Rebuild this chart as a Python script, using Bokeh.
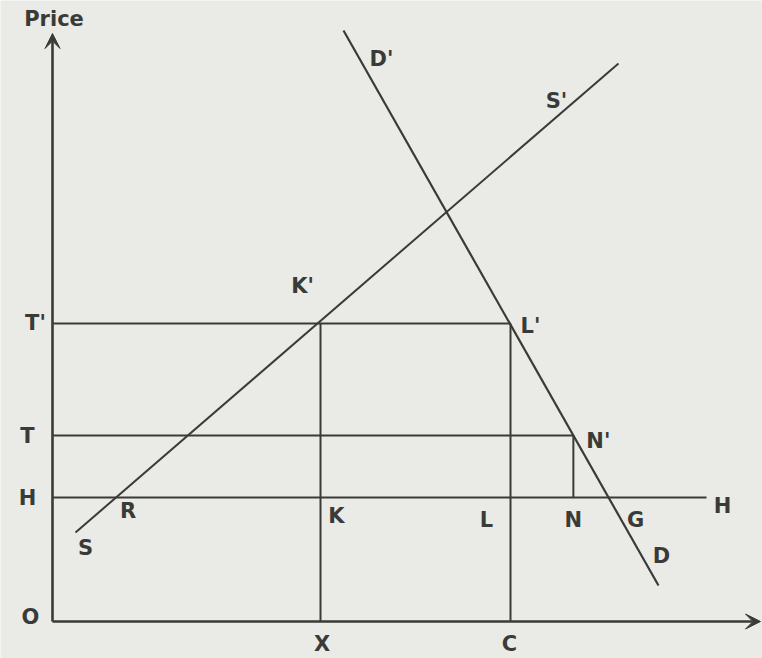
from bokeh.plotting import figure
from bokeh.models import ColumnDataSource, Range1d, Arrow, VeeHead
from bokeh.core.properties import value
from bokeh.embed import file_html
from bokeh.resources import INLINE

# ---------------- data (quantity / price units) ----------------
quantity_marks = ["X", "C"]
quantity_values = [26.8, 45.8]
price_marks = ["H", "T", "T'"]
price_values = [12.4, 18.6, 29.8]

demand_q = [29.1, 60.6]      # D' -> D
demand_p = [59.1, 3.6]
supply_q = [2.3, 56.6]       # S -> S'
supply_p = [8.9, 55.8]

axis_q_max = 70.8
axis_p_max = 58.8
h_line_end = 65.4

# ---------------- styles ----------------
BG = "#eaebe6"
INK = "#3a3b38"
FONT = value("DejaVu Sans")
FS = "21px"
PX = 10.0  # screen pixels per data unit

p = figure(width=762, height=658, output_backend="svg", toolbar_location=None,
           x_range=Range1d(-5.2, 71.0), y_range=Range1d(-3.7, 62.1),
           x_axis_type=None, y_axis_type=None, min_border=0)
p.background_fill_color = BG
p.border_fill_color = BG
p.outline_line_color = None
p.grid.visible = False

qX, qC = quantity_values
pH, pT, pTp = price_values

def on_line(qs, ps, price):
    return qs[0] + (price - ps[0]) * (qs[1] - qs[0]) / (ps[1] - ps[0])

qN = on_line(demand_q, demand_p, pT)   # N' on demand at T
qG = on_line(demand_q, demand_p, pH)   # G on demand at H
qR = on_line(supply_q, supply_p, pH)   # R on supply at H

# demand and supply curves
p.line(demand_q, demand_p, line_color=INK, line_width=2.2)
p.line(supply_q, supply_p, line_color=INK, line_width=2.0)

# construction lines
segs = ColumnDataSource(dict(
    x0=[0, 0, 0, qX, qC, qN],
    y0=[pTp, pT, pH, 0, 0, pH],
    x1=[qC, qN, h_line_end, qX, qC, qN],
    y1=[pTp, pT, pH, pTp, pTp, pT],
))
p.segment(x0="x0", y0="y0", x1="x1", y1="y1", source=segs,
          line_color=INK, line_width=2.0)

# axes with arrow heads
p.add_layout(Arrow(end=VeeHead(size=15, fill_color=INK, line_color=INK),
                   x_start=0, y_start=0, x_end=0, y_end=axis_p_max,
                   line_color=INK, line_width=2.6))
p.add_layout(Arrow(end=VeeHead(size=15, fill_color=INK, line_color=INK),
                   x_start=0, y_start=0, x_end=axis_q_max, y_end=0,
                   line_color=INK, line_width=2.6))

# labels: (text, anchor q, anchor p, dx px, dy px (down))
labels = [
    ("Price", 0, axis_p_max, 1.5, -15),
    ("O", 0, 0, -22, -5),
    (price_marks[0], 0, pH, -25, 0),
    (price_marks[1], 0, pT, -25, 0),
    (price_marks[2], 0, pTp, -17, -1),
    (quantity_marks[0], qX, 0, 1.5, 22),
    (quantity_marks[1], qC, 0, -1, 22),
    ("D'", demand_q[0], demand_p[0], 38, 28),
    ("D", demand_q[1], demand_p[1], 3, -30),
    ("S", supply_q[0], supply_p[0], 10, 15),
    ("S'", supply_q[1], supply_p[1], -62, 37),
    ("K'", qX, pTp, -18, -38),
    ("L'", qC, pTp, 20, 2),
    ("N'", qN, pT, 25, 5),
    ("R", qR, pH, 12, 13),
    ("K", qX, pH, 16, 18),
    ("L", qC, pH, -24, 22),
    ("N", qN, pH, 0, 22),
    ("G", qG, pH, 27, 22),
    ("H", h_line_end, pH, 16, 8),
]
src = ColumnDataSource(dict(
    x=[l[1] + l[3] / PX for l in labels],
    y=[l[2] - l[4] / PX for l in labels],
    text=[l[0] for l in labels],
))
p.text(x="x", y="y", text="text", source=src, text_font=FONT,
       text_font_size=FS, text_font_style="bold", text_color=INK,
       text_align="center", text_baseline="middle")

open("out.html", "w").write(file_html(p, INLINE))
